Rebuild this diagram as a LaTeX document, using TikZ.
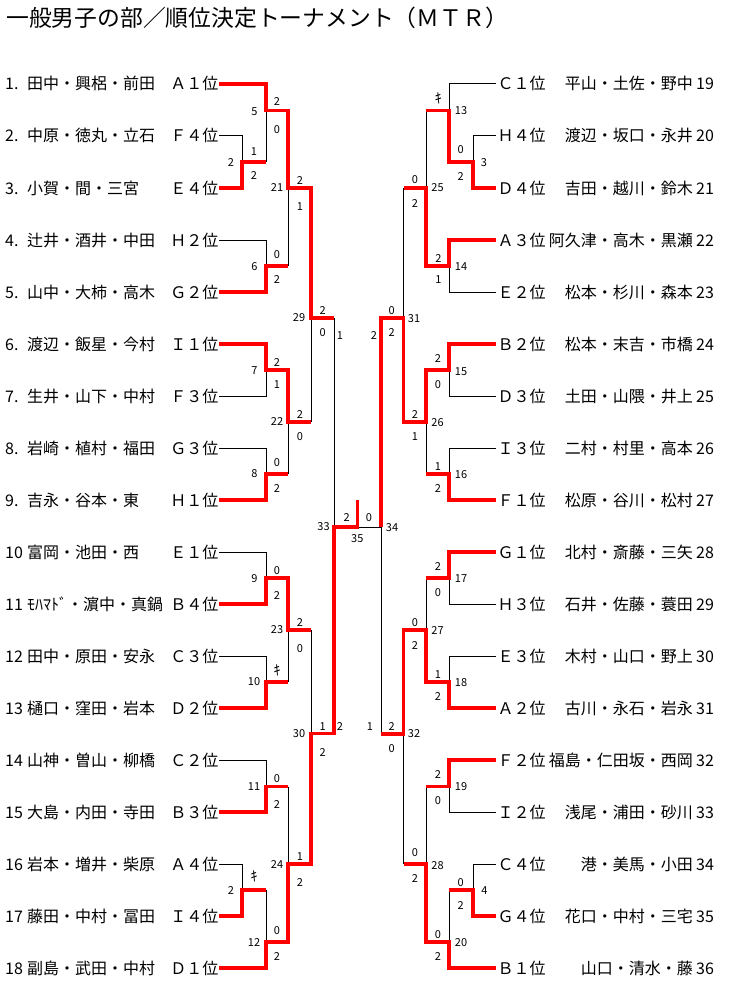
\documentclass[tikz,border=0pt]{standalone}
\usepackage{fontspec}
\setmainfont{Noto Sans CJK JP}
\begin{document}
\begin{tikzpicture}[x=1pt,y=-1pt,
  blk/.style={draw=black,line width=1pt},
  win/.style={draw=red,line width=3.3pt,line join=miter},
  sc/.style={font=\fontsize{11}{11}\selectfont,inner sep=0pt},
  ki/.style={font=\fontsize{14}{14}\selectfont,inner sep=0pt},
  rowtxt/.style={font=\fontsize{16}{16}\selectfont,inner sep=0pt}]
\fill[white] (0,0) rectangle (748,995);
\useasboundingbox (0,0) rectangle (748,995);

\node[font=\fontsize{22.8}{22.8}\selectfont,anchor=base west,inner sep=0pt] (title) at (6,27) {一般男子の部／順位決定トーナメント（ＭＴＲ）};

% left entries
\foreach \n/\nm/\rk [count=\i from 0] in {
 1./田中・興梠・前田/Ａ１位,
 2./中原・徳丸・立石/Ｆ４位,
 3./小賀・間・三宮/Ｅ４位,
 4./辻井・酒井・中田/Ｈ２位,
 5./山中・大柿・高木/Ｇ２位,
 6./渡辺・飯星・今村/Ｉ１位,
 7./生井・山下・中村/Ｆ３位,
 8./岩崎・植村・福田/Ｇ３位,
 9./吉永・谷本・東/Ｈ１位,
 10/富岡・池田・西/Ｅ１位,
 11/ﾓﾊﾏﾄﾞ・濵中・真鍋/Ｂ４位,
 12/田中・原田・安永/Ｃ３位,
 13/樋口・窪田・岩本/Ｄ２位,
 14/山神・曽山・柳橋/Ｃ２位,
 15/大島・内田・寺田/Ｂ３位,
 16/岩本・増井・柴原/Ａ４位,
 17/藤田・中村・冨田/Ｉ４位,
 18/副島・武田・中村/Ｄ１位}{
 \pgfmathsetmacro\yy{90+52*\i}
 \node[rowtxt,anchor=base west] (lnum\i) at (5,\yy) {\n};
 \node[rowtxt,anchor=base west] (lname\i) at (27,\yy) {\nm};
 \node[rowtxt,anchor=base east] (lrank\i) at (218.5,\yy) {\rk};
}

% right entries
\foreach \n/\nm/\rk [count=\i from 0] in {
 19/平山・土佐・野中/Ｃ１位,
 20/渡辺・坂口・永井/Ｈ４位,
 21/吉田・越川・鈴木/Ｄ４位,
 22/阿久津・高木・黒瀬/Ａ３位,
 23/松本・杉川・森本/Ｅ２位,
 24/松本・末吉・市橋/Ｂ２位,
 25/土田・山隈・井上/Ｄ３位,
 26/二村・村里・高本/Ｉ３位,
 27/松原・谷川・松村/Ｆ１位,
 28/北村・斎藤・三矢/Ｇ１位,
 29/石井・佐藤・蓑田/Ｈ３位,
 30/木村・山口・野上/Ｅ３位,
 31/古川・永石・岩永/Ａ２位,
 32/福島・仁田坂・西岡/Ｆ２位,
 33/浅尾・浦田・砂川/Ｉ２位,
 34/港・美馬・小田/Ｃ４位,
 35/花口・中村・三宅/Ｇ４位,
 36/山口・清水・藤/Ｂ１位}{
 \pgfmathsetmacro\yy{90+52*\i}
 \node[rowtxt,anchor=base west] (rrank\i) at (497.5,\yy) {\rk};
 \node[rowtxt,anchor=base east] (rname\i) at (693,\yy) {\nm};
 \node[rowtxt,anchor=base west] (rnum\i) at (696,\yy) {\n};
}

% black (losing) lines
\draw[blk] (219,136) -| (242,162);
\draw[blk] (266,110.5) -- (266,162);
\draw[blk] (219,240) -| (266,266);
\draw[blk] (288,266) -- (288,188);
\draw[blk] (219,396) -| (266,370);
\draw[blk] (219,448) -| (266,474);
\draw[blk] (288,474) -- (288,422);
\draw[blk] (311,422) -- (311,318);
\draw[blk] (334,318) -- (334,527);
\draw[blk] (219,552) -| (266,578);
\draw[blk] (219,656) -| (266,682);
\draw[blk] (288,682) -- (288,630);
\draw[blk] (311,630) -- (311,733.5);
\draw[blk] (219,760) -| (266,786.5);
\draw[blk] (288,786.5) -- (288,864);
\draw[blk] (219,864) -| (242,890);
\draw[blk] (266,890) -- (266,942);
\draw[blk] (357.5,527) -- (381,527);

\draw[blk] (496,84) -| (449,110.5);
\draw[blk] (496,136) -| (473,162);
\draw[blk] (426,110.5) -- (426,188);
\draw[blk] (496,292) -| (449,266);
\draw[blk] (403.5,188) -- (403.5,318);
\draw[blk] (496,396) -| (449,370);
\draw[blk] (496,448) -| (449,474);
\draw[blk] (426,474) -- (426,422);
\draw[blk] (381,527) -- (381,734);
\draw[blk] (496,604) -| (449,578);
\draw[blk] (426,578) -- (426,630);
\draw[blk] (496,656) -| (449,682);
\draw[blk] (496,812) -| (449,786.5);
\draw[blk] (426,786.5) -- (426,864);
\draw[blk] (496,864) -| (473,890);
\draw[blk] (449,890) -- (449,942);
\draw[blk] (403.5,864) -- (403.5,734);

% red (winning) lines
\draw[win] (219,188) -| (242,162) -- (266,162);
\draw[win] (219,84) -| (266,110.5) -| (288,188) -| (311,318) -- (334,318);
\draw[win] (219,292) -| (266,266) -- (288,266);
\draw[win] (219,344) -| (266,370) -| (288,422) -- (311,422);
\draw[win] (219,500) -| (266,474) -- (288,474);
\draw[win] (219,604) -| (266,578) -| (288,630) -- (311,630);
\draw[win] (219,708) -| (266,682) -- (288,682);
\draw[win] (219,812) -| (266,786.5) -- (288,786.5);
\draw[win] (219,916) -| (242,890) -- (266,890);
\draw[win] (219,968) -| (266,942) -| (288,864) -| (311,733.5) -| (334,527) -| (357.5,500);

\draw[win] (496,188) -| (473,162) -| (449,110.5) -- (426,110.5);
\draw[win] (496,240) -| (449,266) -| (426,188) -- (403.5,188);
\draw[win] (496,344) -| (449,370) -| (426,422) -| (403.5,318) -| (381,527);
\draw[win] (496,500) -| (449,474) -- (426,474);
\draw[win] (496,552) -| (449,578) -- (426,578);
\draw[win] (496,708) -| (449,682) -| (426,630) -| (403.5,734) -- (381,734);
\draw[win] (496,760) -| (449,786.5) -- (426,786.5);
\draw[win] (496,916) -| (473,890) -- (449,890);
\draw[win] (496,968) -| (449,942) -| (426,864) -- (403.5,864);

% forfeit marks
\node[ki] (kiA) at (277,670) {ｷ};
\node[ki] (kiB) at (254,876.7) {ｷ};
\node[ki] (kiC) at (438.3,98.3) {ｷ};

% scores and match numbers
\foreach \x/\y/\t [count=\k] in {
 254/151.5/1, 254/175.5/2, 231/163/2,
 277/102/2, 277/129.3/0, 254.5/112/5,
 277/254.3/0, 277/280/2, 254.5/267/6,
 300/180.7/2, 300/206.7/1, 277/188/21,
 277/362.3/2, 277/385/1, 254.5/371/7,
 277/462.3/0, 277/488.3/2, 254.5/474/8,
 300/415/2, 300/436.7/0, 277/422/22,
 322.7/311/2, 322.7/332.7/0, 299/318/29,
 277/570.7/0, 277/596/2, 254.5/579/9,
 254/682/10,
 300/622.7/2, 300/649/0, 277/630/23,
 277/779/0, 277/804.3/2, 254/787/11,
 231/890.7/2,
 277/930.7/0, 277/956.7/2, 254/942/12,
 300/856.7/1, 300/882.7/2, 277/864/24,
 322.7/726.7/1, 322.7/752.7/2, 299/734/30,
 340/336/1, 340/726.7/2, 323.5/527/33,
 346.7/518/2, 369/518/0, 357.3/539/35,
 461/111/13,
 460.7/150/0, 460.7/176.7/2, 484/162.7/3,
 438.3/259/2, 438.3/280/1, 461/266.7/14,
 415/180/0, 415/203.3/2, 437.5/188/25,
 391.7/311/0, 391.7/332.3/2, 414/318.3/31,
 438/359/2, 438/385/0, 461/371.7/15,
 438/466.7/1, 438/489/2, 461/474.3/16,
 415/415/2, 415/436.7/1, 437.5/422.7/26,
 374/336/2, 370/726.7/1, 392/527.3/34,
 438/566.7/2, 438/592.3/0, 461/578.3/17,
 438/675/1, 438/696.7/2, 461/682.3/18,
 415/622.7/0, 415/645/2, 437.5/630/27,
 391.7/726.7/2, 391.7/748.3/0, 414/734/32,
 438/774.3/2, 438/800.7/0, 461/786.7/19,
 460.7/882.7/0, 460.7/905/2, 484.3/891/4,
 438/934.3/0, 438/956.7/2, 461/942.3/20,
 415/852.7/0, 415/878.3/2, 437.5/865.7/28}{
 \node[sc] (lab\k) at (\x,\y) {\t};
}
\end{tikzpicture}
\end{document}
